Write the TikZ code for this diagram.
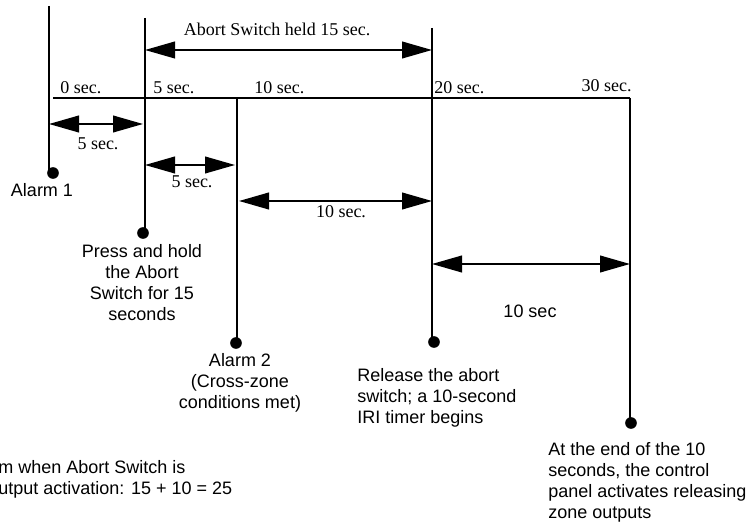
\documentclass[tikz,border=0pt]{standalone}
\usepackage{fontspec}
\setmainfont{Liberation Serif}
\setsansfont{Liberation Sans}
\usetikzlibrary{arrows.meta}
\tikzset{
    event/.style={line width=1.2pt},
    span/.style={line width=1.2pt,
        {Triangle[length=18pt,width=10pt]}-{Triangle[length=18pt,width=10pt]}},
    dot/.style={circle, fill, inner sep=0pt, minimum size=7pt},
    tlabel/.style={font=\fontsize{10.8}{12.6}\selectfont, inner sep=0pt},
    note/.style={font=\sffamily\fontsize{10.8}{12.6}\selectfont, inner sep=0pt},
}

\begin{document}
\begin{tikzpicture}[x=0.6pt, y=-0.6pt]
    \useasboundingbox (0,0) rectangle (755,522);

    % tops of the event lines
    \coordinate (t0) at (49,6);
    \coordinate (t5) at (145,18);
    \coordinate (t10) at (237,98);
    \coordinate (t20) at (432,28);
    \coordinate (t30) at (630,98);
    \coordinate (tl) at (53,98);

    % end dots
    \node[dot] (d0) at (53,173) {};
    \node[dot] (d5) at (143,233) {};
    \node[dot] (d10) at (236,343) {};
    \node[dot] (d20) at (434,342) {};
    \node[dot] (d30) at (631,423) {};

    \draw[event] (tl) -- (t30);
    \draw[event] (t0) -- (t0 |- d0);
    \draw[event] (t5) -- (t5 |- d5);
    \draw[event] (t10) -- (t10 |- d10);
    \draw[event] (t20) -- (t20 |- d20);
    \draw[event] (t30) -- (t30 |- d30);

    % spans
    \coordinate (hl) at (145,50);   \coordinate (hr) at (432,50);
    \coordinate (a1l) at (49,124);  \coordinate (a1r) at (143,124);
    \coordinate (a2l) at (145,165); \coordinate (a2r) at (235,165);
    \coordinate (a3l) at (239,201); \coordinate (a3r) at (432,201);
    \coordinate (a4l) at (432,264); \coordinate (a4r) at (630,264);
    \draw[span] (hl) -- (hr);
    \draw[span] (a1l) -- (a1r);
    \draw[span] (a2l) -- (a2r);
    \draw[span] (a3l) -- (a3r);
    \draw[span] (a4l) -- (a4r);

    \node[tlabel, anchor=base] (held) at (277,36) {Abort Switch held 15 sec.};
    \node[tlabel, anchor=base west] (s0) at (60,94) {0 sec.};
    \node[tlabel, anchor=base west] (s5) at (153,94) {5 sec.};
    \node[tlabel, anchor=base west] (s10) at (254,94) {10 sec.};
    \node[tlabel, anchor=base west] (s20) at (434,94) {20 sec.};
    \node[tlabel, anchor=base east] (s30) at (632,92) {30 sec.};
    \node[tlabel, anchor=base] (a1) at (98,150) {5 sec.};
    \node[tlabel, anchor=base] (a2) at (192,188) {5 sec.};
    \node[tlabel, anchor=base] (a3) at (341,218) {10 sec.};
    \node[note, anchor=base] (a4) at (530,317) {10 sec};

    \node[note, anchor=base] (alarm1) at (42,197) {Alarm 1};
    \node[note, anchor=north, align=center] (press) at (142,244)
        {Press and hold\\the Abort\\Switch for 15\\seconds};
    \node[note, anchor=north, align=center] (alarm2) at (240,353)
        {Alarm 2\\(Cross-zone\\conditions met)};
    \node[note, anchor=north west, align=left] (release) at (357,368)
        {Release the abort\\switch; a 10-second\\IRI timer begins};
    \node[note, anchor=north west, align=left] (outputs) at (548,442)
        {At the end of the 10\\seconds, the control\\panel activates releasing\\zone outputs};
    \node[note, anchor=north west, align=left] (total) at (-2,460)
        {m when Abort Switch is\\utput activation: 15 + 10 = 25};
\end{tikzpicture}
\end{document}
